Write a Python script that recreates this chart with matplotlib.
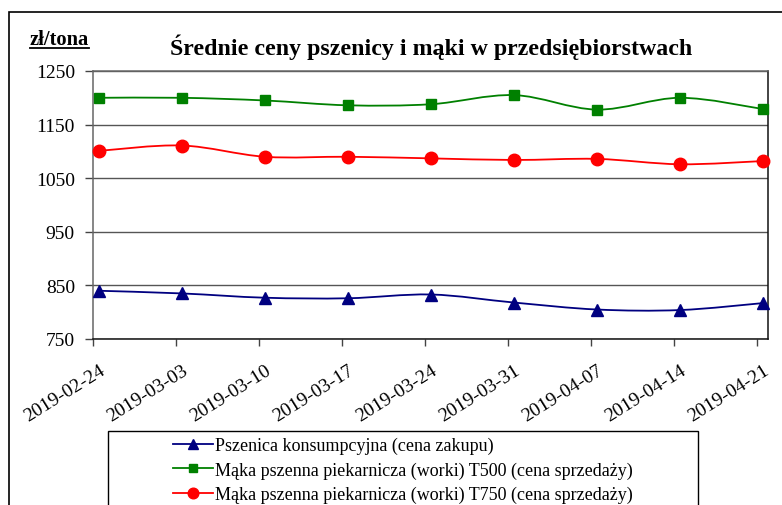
import matplotlib
matplotlib.use('Agg')
import matplotlib.pyplot as plt
import matplotlib.transforms as mtransforms
from matplotlib.path import Path
from matplotlib.patches import PathPatch, Rectangle
from matplotlib.lines import Line2D
import numpy as np

# data
dates = ['2019-02-24', '2019-03-03', '2019-03-10', '2019-03-17', '2019-03-24',
         '2019-03-31', '2019-04-07', '2019-04-14', '2019-04-21']
pszenica = [840, 835, 827, 826, 833, 818, 805, 804, 817]
t500 = [1200, 1200, 1195, 1186, 1188, 1205, 1178, 1200, 1179]
t750 = [1101, 1111, 1090, 1090, 1087, 1084, 1086, 1076, 1082]

labels = ['Pszenica konsumpcyjna (cena zakupu)',
          'Mąka pszenna piekarnicza (worki) T500 (cena sprzedaży)',
          'Mąka pszenna piekarnicza (worki) T750 (cena sprzedaży)']

plt.rcParams['font.family'] = ['Liberation Serif', 'DejaVu Serif']

W, H = 782, 506
fig = plt.figure(figsize=(W / 100, H / 100), dpi=100)
ax = fig.add_axes([93 / W, 1 - 340 / H, (768 - 93) / W, (340 - 72) / H])


def smooth_path(x, y):
    # Excel-like smoothed line: Catmull-Rom converted to cubic Bezier
    pts = np.column_stack([x, y]).astype(float)
    verts = [pts[0]]
    codes = [Path.MOVETO]
    n = len(pts)
    for i in range(n - 1):
        p0 = pts[max(i - 1, 0)]
        p1 = pts[i]
        p2 = pts[i + 1]
        p3 = pts[min(i + 2, n - 1)]
        c1 = p1 + (p2 - p0) / 6
        c2 = p2 - (p3 - p1) / 6
        verts += [c1, c2, p2]
        codes += [Path.CURVE4] * 3
    return Path(verts, codes)


x = np.arange(len(dates))
series = [
    (pszenica, '#000080', '^', 8.5),
    (t500, '#008000', 's', 7.5),
    (t750, '#FF0000', 'o', 9),
]

handles = []
for vals, col, mk, ms in series:
    ax.add_patch(PathPatch(smooth_path(x, vals), facecolor='none',
                           edgecolor=col, lw=1.3, zorder=3))
    ax.plot(x, vals, ls='none', marker=mk, ms=ms, color=col, zorder=4,
            clip_on=False)
    handles.append(Line2D([], [], color=col, lw=1.3, marker=mk, ms=ms * 0.85))

ax.set_xlim(-0.072, 8.06)
ax.set_ylim(750, 1250)
ax.set_yticks([750, 850, 950, 1050, 1150, 1250])
ax.set_xticks(x - 0.07)
ax.set_xticklabels(dates, rotation=32, ha='right', va='top',
                   rotation_mode='anchor')
ax.yaxis.grid(True, color='#555555', lw=1.0)
ax.set_axisbelow(True)

ax.tick_params(axis='y', direction='out', length=6, width=1, color='#444444',
               pad=7, labelsize=14)
ax.tick_params(axis='x', direction='out', length=5, width=1, color='#444444',
               pad=11, labelsize=14)
offset = mtransforms.ScaledTranslation(0.06, 0, fig.dpi_scale_trans)
for lbl in ax.get_xticklabels():
    lbl.set_transform(lbl.get_transform() + offset)

for side in ['left', 'top']:
    ax.spines[side].set_color('#666666')
for side in ['right', 'bottom']:
    ax.spines[side].set_color('#111111')
for sp in ax.spines.values():
    sp.set_linewidth(1.1)

# outer chart frame (cut off at right and bottom in the reference)
fig.patches.append(Rectangle((9 / W, -0.2), 1.2, 1.2 - 13 / H,
                             transform=fig.transFigure, fill=False,
                             edgecolor='black', lw=1.2))

fig.text(431 / W, 1 - 55 / H, 'Średnie ceny pszenicy i mąki w przedsiębiorstwach',
         ha='center', va='baseline', fontsize=17.2, fontweight='bold')
fig.text(30 / W, 1 - 45 / H, 'zł/tona', ha='left', va='baseline',
         fontsize=14.8, fontweight='bold')
fig.lines.append(Line2D([30 / W, 89 / W], [1 - 49 / H, 1 - 49 / H],
                        transform=fig.transFigure, color='black', lw=1.3))

# legend frame (its bottom edge lies below the image)
fig.patches.append(Rectangle((108 / W, -0.2), (698 - 108) / W, 0.2 + 1 - 432 / H,
                             transform=fig.transFigure, fill=False,
                             edgecolor='black', lw=1.0))
fig.legend(handles, labels, loc='upper left',
           bbox_to_anchor=(173 / W, 1 - 438 / H), frameon=False,
           fontsize=13, handlelength=2.2, handletextpad=0.12,
           labelspacing=0.4, borderpad=0, borderaxespad=0)

fig.savefig('out.png', dpi=100)
